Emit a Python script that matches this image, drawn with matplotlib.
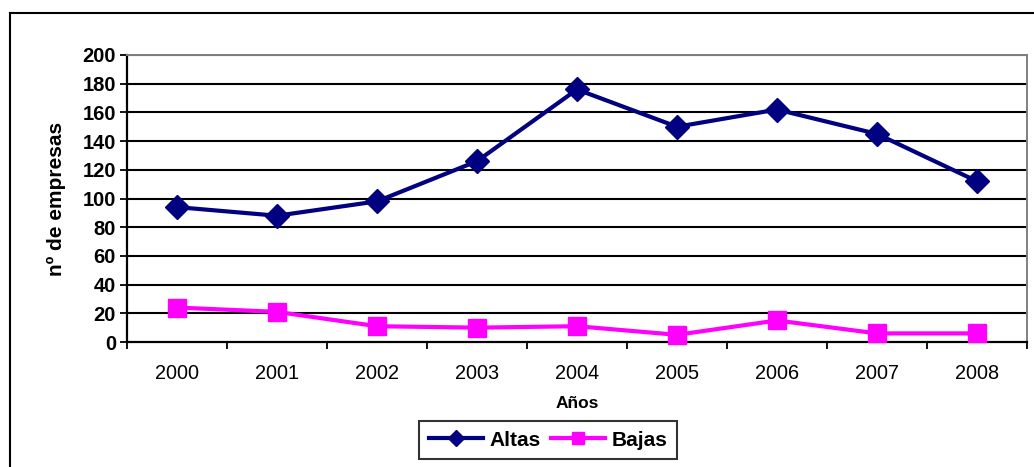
import matplotlib
matplotlib.use("Agg")
import matplotlib.pyplot as plt
from matplotlib.lines import Line2D

years = ["2000", "2001", "2002", "2003", "2004", "2005", "2006", "2007", "2008"]
altas = [94, 88, 98, 126, 176, 150, 162, 145, 112]
bajas = [24, 21, 11, 10, 11, 5, 15, 6, 6]
yticks = [0, 20, 40, 60, 80, 100, 120, 140, 160, 180, 200]

plt.rcParams['font.family'] = ['Liberation Sans', 'DejaVu Sans']

W, H = 1034, 467
fig = plt.figure(figsize=(W / 100, H / 100), dpi=100)
fig.patch.set_facecolor('white')

l, r, t, b = 127, 1027, 55, 342
ax = fig.add_axes([l / W, 1 - b / H, (r - l) / W, (b - t) / H])

x = list(range(len(years)))
ax.plot(x, altas, color='#000080', lw=3, marker='D', ms=12.5, label='Altas', zorder=3, clip_on=False)
ax.plot(x, bajas, color='#FF00FF', lw=3, marker='s', ms=12.5, label='Bajas', zorder=3, clip_on=False)

ax.set_xlim(-0.5, len(years) - 0.5)
ax.set_ylim(0, 200)
ax.set_yticks(yticks)
ax.set_yticklabels([str(v) for v in yticks], fontweight='bold', fontsize=14.5)
for v in yticks[1:]:
    ax.axhline(v, color='black', lw=1.5, zorder=1)

ax.set_xticks(x)
ax.set_xticklabels(years, fontsize=14.3)
ax.set_xticks([i - 0.5 for i in range(len(years) + 1)], minor=True)
ax.tick_params(axis='x', which='major', length=0, pad=16)
ax.tick_params(axis='x', which='minor', length=5, width=1.3, direction='out')
ax.tick_params(axis='y', length=5, width=1.3, direction='out', pad=3)

for s in ['left', 'bottom']:
    ax.spines[s].set_linewidth(1.6)
    ax.spines[s].set_color('black')
for s in ['top', 'right']:
    ax.spines[s].set_linewidth(1.4)
    ax.spines[s].set_color('#808080')

ax.set_xlabel('Años', fontweight='bold', fontsize=12.5, labelpad=9)
ax.set_ylabel('nº de empresas', fontweight='bold', fontsize=15, labelpad=12)

leg = fig.legend(loc='center', bbox_to_anchor=(548 / W, 1 - 440 / H), ncol=2,
                 frameon=True, fancybox=False, edgecolor='black',
                 prop={'weight': 'bold', 'size': 15}, handlelength=2.6,
                 columnspacing=0.5, handletextpad=0.3, borderpad=0.45,
                 borderaxespad=0, markerscale=0.65)
leg.get_frame().set_linewidth(1.5)

# outer chart border
fig.add_artist(Line2D([9.5 / W, 9.5 / W], [0, 1 - 13 / H], transform=fig.transFigure, color='black', lw=1.5))
fig.add_artist(Line2D([9.5 / W, 1], [1 - 13 / H, 1 - 13 / H], transform=fig.transFigure, color='black', lw=1.5))

fig.savefig('out.png', dpi=100)
